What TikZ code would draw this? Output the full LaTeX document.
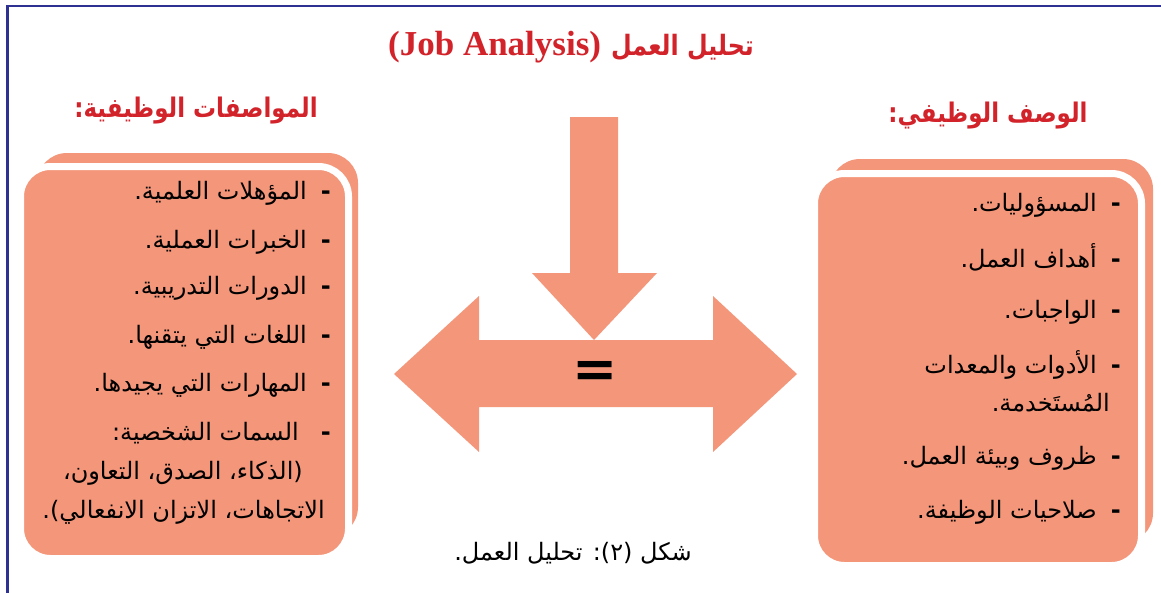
\documentclass[tikz,border=0pt]{standalone}
\usepackage{fontspec}
\usepackage{xcolor}
\usepackage{graphicx}
\usepackage{tikz}
\TeXXeTstate=1
\setmainfont{Liberation Serif}
\newfontfamily\arabicfont[Script=Arabic]{DejaVu Sans}
\definecolor{salmon}{RGB}{244,150,122}
\definecolor{titlered}{RGB}{210,35,42}
\definecolor{frameblue}{RGB}{46,49,146}
\newcommand{\bul}{{\bfseries -}\hspace{14pt}}
\newcommand{\narrow}[1]{\scalebox{0.85}[1]{#1}}

\begin{document}
\begin{tikzpicture}[x=1pt,y=-1pt,
    backbox/.style={fill=salmon, draw=none, rounded corners=30pt},
    frontbox/.style={fill=salmon, draw=white, line width=7pt, rounded corners=30pt},
    item/.style={anchor=east, inner sep=0pt, font=\arabicfont\fontsize{24}{28}\selectfont},
    heading/.style={inner sep=0pt, text=titlered, font=\arabicfont\bfseries\fontsize{27}{32}\selectfont}]
    \useasboundingbox (0,0) rectangle (1161,592);
    \draw[frameblue, line width=2.5pt] (7.5,600) -- (7.5,6) -- (1170,6);

    % title and headings
    \node[inner sep=0pt, text=titlered] (title) at (571,47) {{\bfseries\fontsize{35}{40}\selectfont (Job Analysis)}\hspace{10pt}{\arabicfont\bfseries\fontsize{28}{34}\selectfont\narrow{\beginR تحليل العمل\endR}}};
    \node[heading] (specs) at (196,111) {\narrow{\beginR المواصفات الوظيفية:\endR}};
    \node[heading] (desc) at (988,116) {\narrow{\beginR الوصف الوظيفي:\endR}};

    % boxes
    \draw[backbox] (37,153) rectangle (358,537);
    \draw[frontbox] (20.5,166.5) rectangle (348.5,558.5);
    \draw[backbox] (830,159) rectangle (1153,543);
    \draw[frontbox] (814.5,173.5) rectangle (1141.5,565.5);

    % job specification
    \node[item] (s1) at (331,193) {\beginR \bul المؤهلات العلمية.\endR};
    \node[item] (s2) at (331,242) {\beginR \bul الخبرات العملية.\endR};
    \node[item] (s3) at (331,288) {\beginR \bul الدورات التدريبية.\endR};
    \node[item] (s4) at (331,337) {\beginR \bul اللغات التي يتقنها.\endR};
    \node[item] (s5) at (331,385) {\beginR \bul المهارات التي يجيدها.\endR};
    \node[item] (s6) at (331,433) {\beginR \bul\hspace{8pt}السمات الشخصية:\endR};
    \node[item] (s6a) at (303,473) {\beginR (الذكاء، الصدق، التعاون،\endR};
    \node[item] (s6b) at (325,512) {\beginR الاتجاهات، الاتزان الانفعالي).\endR};

    % job description
    \node[item] (d1) at (1121,205) {\beginR \bul المسؤوليات.\endR};
    \node[item] (d2) at (1121,257) {\beginR \bul أهداف العمل.\endR};
    \node[item] (d3) at (1121,312) {\beginR \bul الواجبات.\endR};
    \node[item] (d4) at (1121,365) {\beginR \bul الأدوات والمعدات\endR};
    \node[item] (d4a) at (1110,403) {\beginR المُستَخدمة.\endR};
    \node[item] (d5) at (1121,458) {\beginR \bul ظروف وبيئة العمل.\endR};
    \node[item] (d6) at (1121,512) {\beginR \bul صلاحيات الوظيفة.\endR};

    % arrows
    \fill[salmon] (570,117) -- (618,117) -- (618,273) -- (657,273) -- (594,340) -- (532,273) -- (570,273) -- cycle;
    \fill[salmon] (394,374) -- (479,296) -- (479,340) -- (713,340) -- (713,296) -- (797,374) -- (713,452) -- (713,407) -- (479,407) -- (479,452) -- cycle;
    \node[inner sep=0pt, font=\arabicfont\bfseries\fontsize{54}{54}\selectfont] (equal) at (595,374) {=};

    % caption
    \node[inner sep=0pt, font=\arabicfont\fontsize{24}{28}\selectfont] (caption) at (573,553) {\beginR شكل (٢): تحليل العمل.\endR};
\end{tikzpicture}
\end{document}
